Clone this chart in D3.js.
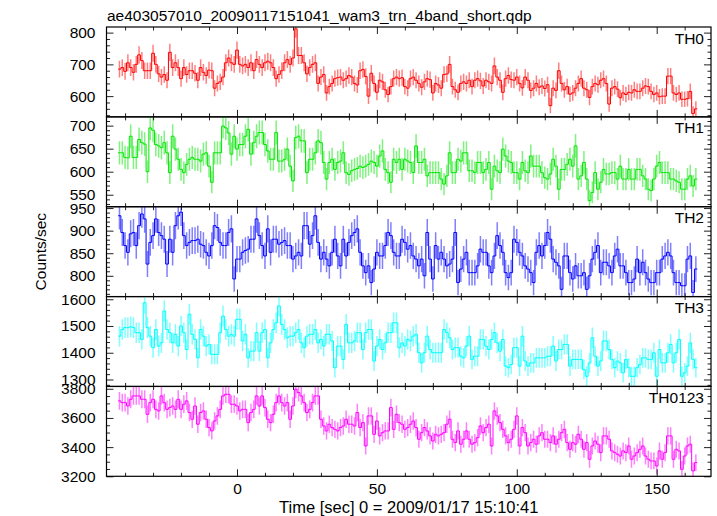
<!DOCTYPE html>
<html><head><meta charset="utf-8">
<script src="https://cdn.jsdelivr.net/npm/d3@7"></script>
<style>
body{margin:0;background:#fff}
svg{display:block}
text{font-family:"Liberation Sans",Arial,Helvetica,sans-serif}
</style>
</head><body>
<svg id="c" width="717" height="516"></svg>
<script>
// ---------------- data (1-s bins, first bin centred at binStart) ----------------
const binStart = -42;
const titleText = "ae403057010_20090117151041_wam3_trn_4band_short.qdp";
const xLabel = "Time [sec] 0 = 2009/01/17 15:10:41";
const yLabel = "Counts/sec";
const names = ["TH0","TH1","TH2","TH3","TH0123"];

const th0 = [
685,690,678,705,690,675,700,730,712,680,
680,680,735,700,670,660,668,650,738,690,
705,690,655,690,668,680,680,672,650,690,
675,665,682,680,625,640,645,660,705,720,
705,700,745,700,695,700,690,705,680,715,
700,690,705,710,705,690,655,668,680,705,
715,700,720,812,728,728,705,670,690,
700,705,640,660,668,610,630,640,655,658,
660,650,655,665,660,640,635,680,684,662,
600,672,640,612,650,645,620,605,630,655,
660,655,658,630,625,655,660,650,640,628,
645,655,652,610,640,635,625,668,670,700,
630,620,612,640,645,640,650,630,650,655,
648,632,650,645,640,695,660,650,612,655,
665,
652,650,660,640,626,660,650,618,625,640,
628,632,624,636,570,625,618,680,640,620,
630,606,610,625,640,655,625,620,596,630,
640,636,650,655,640,575,625,630,622,595,
610,605,612,610,620,615,615,625,632,630,
615,605,610,598,600,600,663,663,610,605,
610,590,590,592,615,545,560];

const th1 = [
641,641,631,630,677,631,631,670,663,660,
600,695,690,659,656,652,663,641,598,677,
649,627,605,598,616,627,631,627,627,623,
638,641,612,577,641,641,641,699,695,684,
638,677,649,659,659,677,692,638,663,677,
685,685,659,645,627,627,685,623,623,627,
649,612,580,674,677,667,667,598,627,
627,641,667,663,620,584,620,627,605,620,
623,641,598,594,602,605,607,612,609,612,
616,623,620,612,634,645,605,598,577,627,
620,627,605,627,623,620,598,656,620,620,
627,591,598,598,598,598,584,573,591,641,
598,598,627,623,641,641,602,602,598,620,
620,598,605,620,562,612,602,598,649,634,
623,
620,598,598,584,620,602,598,634,612,612,
612,598,587,584,595,627,612,562,605,605,
616,627,612,656,584,591,620,584,537,555,
598,562,577,605,595,595,598,598,584,612,
584,584,605,584,584,605,605,591,584,562,
559,584,612,620,598,598,598,584,584,580,
577,562,562,584,591,569,584];

const th2 = [
933,896,867,852,893,896,867,911,937,926,
826,874,889,926,896,889,881,826,881,852,
911,933,941,889,867,874,878,878,881,870,
867,852,844,867,911,907,874,867,867,896,
904,793,837,837,852,856,859,881,881,926,
889,867,844,904,852,881,881,870,874,878,
867,867,837,844,852,844,911,911,870,
889,933,874,837,852,837,822,852,881,844,
822,881,844,874,889,896,904,852,822,807,
822,785,815,852,844,844,867,896,889,852,
844,844,881,874,859,867,844,837,822,837,
800,896,837,793,867,837,852,837,822,826,
837,896,785,815,837,852,807,807,807,822,
859,852,852,822,807,844,889,867,852,807,
796,
807,881,874,852,844,822,815,807,785,852,
867,844,867,896,881,837,830,822,770,844,
844,807,793,822,800,800,807,770,800,837,
852,867,807,830,830,822,807,844,859,822,
822,807,785,785,793,837,807,830,807,793,
785,785,807,807,837,844,852,844,807,785,
785,778,778,837,844,763,815];

const th3 = [
1462,1487,1494,1494,1497,1494,1475,1475,1450,1587,
1494,1462,1419,1487,1425,1437,1556,1487,1475,1437,
1469,1425,1500,1475,1412,1544,1469,1450,1381,1487,
1462,1425,1431,1394,1394,1394,1475,1537,1487,1462,
1469,1462,1525,1525,1444,1469,1381,1406,1406,1475,
1406,1475,1487,1381,1437,1487,1512,1575,1506,1487,
1456,1462,1462,1475,1487,1437,1419,1462,1469,
1469,1487,1437,1450,1425,1469,1469,1444,1344,1425,
1425,1375,1506,1437,1437,1444,1475,1475,1412,1475,
1487,1487,1369,1425,1450,1412,1437,1475,1475,1512,
1512,1419,1437,1425,1450,1444,1462,1469,1400,1362,
1400,1462,1412,1400,1400,1400,1400,1487,1475,1456,
1412,1419,1419,1387,1381,1425,1462,1375,1387,1387,
1450,1450,1425,1412,1450,1475,1437,1406,1450,1350,
1344,
1356,1419,1419,1350,1462,1369,1350,1362,1362,1381,
1381,1381,1381,1387,1387,1425,1369,1412,1412,1431,
1431,1350,1375,1375,1375,1375,1337,1312,1362,1456,
1387,1350,1369,1444,1444,1412,1375,1344,1369,1362,
1325,1375,1344,1312,1312,1344,1356,1381,1381,1375,
1375,1400,1312,1412,1362,1362,1400,1431,1362,1400,
1450,1312,1325,1350,1437,1375,1344];

const th0123 = [
3717,3705,3705,3682,3728,3751,3751,3751,3728,3728,
3625,3705,3728,3659,3648,3751,3705,3659,3671,3682,
3659,3728,3659,3694,3717,3637,3591,3682,3557,3637,
3648,3591,3534,3511,3579,3614,3659,3751,3762,3762,
3694,3694,3682,3648,3659,3659,3568,3637,3659,3751,
3682,3751,3671,3591,3568,3625,3705,3751,3705,3682,
3705,3591,3682,3797,3774,3751,3705,3637,3659,
3705,3751,3751,3591,3545,3511,3557,3534,3522,3511,
3534,3545,3591,3557,3557,3545,3637,3534,3568,3408,
3614,3614,3488,3579,3477,3499,3511,3511,3671,3522,
3625,3568,3557,3522,3534,3557,3579,3534,3454,3499,
3534,3511,3477,3442,3488,3477,3488,3499,3557,3591,
3454,3431,3511,3420,3454,3511,3454,3420,3431,3465,
3545,3499,3534,3557,3408,3648,3614,3568,3522,3477,
3431,
3454,3522,3614,3408,3534,3499,3408,3431,3454,3420,
3477,3499,3454,3454,3431,3477,3420,3454,3499,3522,
3431,3385,3431,3420,3488,3454,3385,3431,3317,3408,
3442,3420,3362,3477,3477,3454,3374,3362,3351,3339,
3374,3362,3408,3317,3339,3362,3385,3408,3339,3317,
3305,3305,3271,3374,3317,3362,3477,3477,3317,3385,
3374,3248,3339,3408,3420,3237,3294];

const series = [th0, th1, th2, th3, th0123];
const xTickValues = [0, 50, 100, 150];
const yTickValues = [[600,700,800],[550,600,650,700],[800,850,900,950],[1300,1400,1500,1600],[3200,3400,3600,3800]];

// ---------------- layout / style ----------------
const yDomains = [[534.7,817.7],[524,719],[754,953],[1274,1610],[3200,3816]];
const yMinorStep = [20,10,10,20,50];
const colors = ["#ff0000","#00e600","#0000ff","#00ffff","#ff00ff"];
const plotL = 106.5, plotR = 711, plotT = 27, plotB = 476.3;
const ph = (plotB - plotT) / series.length;
const FS = 15.5;

const svg = d3.select("#c");
const x = d3.scaleLinear().domain([-46.64, 169.41]).range([plotL, plotR]);
const xMinor = d3.range(-40, 170, 10).filter(v => !xTickValues.includes(v));
const fmt = d3.format("d");

svg.append("text").attr("x", 107).attr("y", 21).attr("font-size", FS).text(titleText);

series.forEach((vals, i) => {
  const top = plotT + i * ph, bot = top + ph;
  const y = d3.scaleLinear().domain(yDomains[i]).range([bot, top]);
  const g = svg.append("g");
  const cid = "clip" + i;
  svg.append("clipPath").attr("id", cid).append("rect")
    .attr("x", plotL).attr("y", top).attr("width", plotR - plotL).attr("height", ph);
  const dg = g.append("g").attr("clip-path", `url(#${cid})`);
  const pts = vals.map((v, k) => ({t: binStart + k, v}));

  dg.selectAll("line.err").data(pts).join("line").attr("class", "err")
    .attr("x1", d => x(d.t)).attr("x2", d => x(d.t))
    .attr("y1", d => y(d.v - Math.sqrt(d.v))).attr("y2", d => y(d.v + Math.sqrt(d.v)))
    .attr("stroke", colors[i]).attr("stroke-opacity", 0.5).attr("stroke-width", 1.5);

  const stepPts = pts.map(d => [d.t - 0.5, d.v]);
  stepPts.push([pts[pts.length - 1].t + 0.5, pts[pts.length - 1].v]);
  dg.append("path").datum(stepPts)
    .attr("d", d3.line().x(d => x(d[0])).y(d => y(d[1])).curve(d3.curveStepAfter))
    .attr("fill", "none").attr("stroke", colors[i]).attr("stroke-width", 1);

  // y axes
  const [y0, y1] = yDomains[i];
  const yMin = d3.range(Math.ceil(y0 / yMinorStep[i]) * yMinorStep[i], y1, yMinorStep[i])
      .filter(v => !yTickValues[i].includes(v));
  const ax = (sel, axis) => { sel.call(axis); sel.select(".domain").remove();
      sel.selectAll("line").attr("stroke", "#222");
      sel.selectAll("text").attr("font-size", FS).attr("font-family", null).attr("fill", "#000"); };
  g.append("g").attr("transform", `translate(${plotL},0)`)
    .call(s => ax(s, d3.axisLeft(y).tickValues(yTickValues[i]).tickSize(-7).tickPadding(11).tickFormat(fmt)));
  g.append("g").attr("transform", `translate(${plotL},0)`)
    .call(s => ax(s, d3.axisLeft(y).tickValues(yMin).tickSize(-3.5).tickFormat("")));
  g.append("g").attr("transform", `translate(${plotR},0)`)
    .call(s => ax(s, d3.axisRight(y).tickValues(yTickValues[i]).tickSize(-7).tickFormat("")));
  g.append("g").attr("transform", `translate(${plotR},0)`)
    .call(s => ax(s, d3.axisRight(y).tickValues(yMin).tickSize(-3.5).tickFormat("")));
  // x axes (top & bottom of each panel)
  g.append("g").attr("transform", `translate(0,${top})`)
    .call(s => ax(s, d3.axisTop(x).tickValues(xTickValues).tickSize(-7).tickFormat("")));
  g.append("g").attr("transform", `translate(0,${top})`)
    .call(s => ax(s, d3.axisTop(x).tickValues(xMinor).tickSize(-3.5).tickFormat("")));
  const last = i === series.length - 1;
  g.append("g").attr("transform", `translate(0,${bot})`)
    .call(s => ax(s, d3.axisBottom(x).tickValues(xTickValues).tickSize(-7).tickPadding(6.5)
        .tickFormat(last ? fmt : "")));
  g.append("g").attr("transform", `translate(0,${bot})`)
    .call(s => ax(s, d3.axisBottom(x).tickValues(xMinor).tickSize(-3.5).tickFormat("")));

  g.append("rect").attr("x", plotL).attr("y", top).attr("width", plotR - plotL).attr("height", ph)
    .attr("fill", "none").attr("stroke", "#000").attr("stroke-width", 1.2);

  g.append("text").attr("x", 704).attr("y", top + 16.5).attr("text-anchor", "end")
    .attr("font-size", FS).text(names[i]);
});

svg.append("text").attr("x", (plotL + plotR) / 2).attr("y", 513).attr("text-anchor", "middle")
  .attr("font-size", 16.5).text(xLabel);
svg.append("text").attr("transform", `translate(46,${(plotT + plotB) / 2}) rotate(-90)`)
  .attr("text-anchor", "middle").attr("font-size", FS).text(yLabel);
</script>
</body></html>
